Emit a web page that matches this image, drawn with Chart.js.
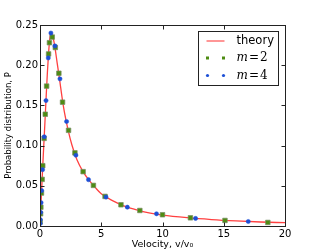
<!DOCTYPE html>
<html>
<head>
<meta charset="utf-8">
<script src="https://cdn.jsdelivr.net/npm/chart.js@4"></script>
<style>
  html, body { margin: 0; padding: 0; background: #fff; }
  #chart { display: block; }
</style>
</head>
<body>
<canvas id="chart" width="317" height="252"></canvas>
<script>
const theoryV = [0, 0.05, 0.1, 0.2, 0.3, 0.4, 0.5, 0.6, 0.7, 0.8, 0.9, 1.0, 1.1, 1.2, 1.4, 1.6, 1.8, 2.0, 2.3, 2.6, 3.0, 3.5, 4.0, 4.5, 5.0, 6.0, 7.0, 8.0, 9.0, 10, 12, 14, 16, 18, 20];
const theoryP = [0, 0.017, 0.034, 0.067, 0.098, 0.128, 0.160, 0.190, 0.215, 0.233, 0.241, 0.238, 0.232, 0.224, 0.203, 0.182, 0.160, 0.141, 0.119, 0.101, 0.083, 0.068, 0.057, 0.048, 0.040, 0.031, 0.024, 0.0195, 0.016, 0.0135, 0.0103, 0.0080, 0.0063, 0.0050, 0.0041];

const m2V = [0.015, 0.046, 0.07, 0.12, 0.175, 0.225, 0.335, 0.43, 0.54, 0.7, 0.77, 1.0, 1.25, 1.54, 1.84, 2.33, 2.85, 3.52, 4.36, 5.31, 6.61, 8.15, 10.0, 12.28, 15.1, 18.6];
const m2P = [0.005, 0.0152, 0.0234, 0.041, 0.058, 0.075, 0.109, 0.139, 0.174, 0.214, 0.228, 0.235, 0.222, 0.190, 0.154, 0.119, 0.091, 0.0676, 0.0505, 0.0368, 0.0264, 0.0193, 0.014, 0.0102, 0.0069, 0.0044];

const m4V = [0.01, 0.025, 0.052, 0.088, 0.135, 0.21, 0.345, 0.49, 0.675, 0.89, 1.22, 1.63, 2.17, 2.93, 3.96, 5.39, 7.13, 9.51, 12.7, 17.0];
const m4P = [0.003, 0.008, 0.017, 0.029, 0.044, 0.070, 0.111, 0.156, 0.209, 0.240, 0.224, 0.183, 0.130, 0.088, 0.0576, 0.036, 0.0234, 0.0152, 0.0094, 0.0056];

const xTicks = [0, 5, 10, 15, 20];
const yTicks = [0, 0.05, 0.1, 0.15, 0.2, 0.25];

const legendLabels = ["theory", "m=2", "m=4"];

const FONT = "'DejaVu Sans', sans-serif";
const RED = "rgba(255, 0, 0, 0.75)";
const GREEN = "#4e8c12";
const BLUE = "#1c4fd6";

function toPoints(xs, ys) {
  return xs.map((x, i) => ({ x, y: ys[i] }));
}

// matplotlib style box: full frame plus inward ticks on every side
const framePlugin = {
  id: "frame",
  afterDraw(chart) {
    const { ctx, chartArea: a, scales } = chart;
    const left = Math.round(a.left) + 0.5;
    const right = Math.round(a.right) + 0.5;
    const top = Math.round(a.top) + 0.5;
    const bottom = Math.round(a.bottom) + 0.5;
    ctx.save();
    ctx.strokeStyle = "#222";
    ctx.lineWidth = 1;
    ctx.strokeRect(left, top, right - left, bottom - top);
    ctx.beginPath();
    xTicks.forEach((t) => {
      const px = Math.round(scales.x.getPixelForValue(t)) + 0.5;
      ctx.moveTo(px, bottom); ctx.lineTo(px, bottom - 4);
      ctx.moveTo(px, top); ctx.lineTo(px, top + 4);
    });
    yTicks.forEach((t) => {
      const py = Math.round(scales.y.getPixelForValue(t)) + 0.5;
      ctx.moveTo(left, py); ctx.lineTo(left + 4, py);
      ctx.moveTo(right, py); ctx.lineTo(right - 4, py);
    });
    ctx.stroke();
    ctx.restore();
  },
};

// legend box in the upper right corner of the plot
const legendPlugin = {
  id: "boxLegend",
  afterDraw(chart) {
    const { ctx, chartArea: a } = chart;
    const bx = a.right - 86.5;
    const by = a.top + 6.5;
    ctx.save();
    ctx.fillStyle = "#fff";
    ctx.fillRect(bx, by, 80, 54);
    ctx.strokeStyle = "#222";
    ctx.lineWidth = 1;
    ctx.strokeRect(bx, by, 80, 54);

    const rows = [by + 9.5, by + 26.5, by + 44];
    const mx1 = bx + 9;
    const mx2 = bx + 25;

    ctx.strokeStyle = "rgba(255, 80, 80, 0.6)";
    ctx.lineWidth = 2;
    ctx.beginPath();
    ctx.moveTo(mx1 - 1, rows[0]);
    ctx.lineTo(mx2 + 1, rows[0]);
    ctx.stroke();

    ctx.fillStyle = GREEN;
    [mx1, mx2].forEach((x) => ctx.fillRect(x - 1.5, rows[1] - 1.5, 3, 3));
    ctx.fillStyle = BLUE;
    [mx1, mx2].forEach((x) => {
      ctx.beginPath();
      ctx.arc(x, rows[2], 1.6, 0, Math.PI * 2);
      ctx.fill();
    });

    ctx.fillStyle = "#000";
    ctx.textBaseline = "middle";
    ctx.textAlign = "left";
    const tx = bx + 38;
    ctx.font = "11.5px " + FONT;
    ctx.fillText(legendLabels[0], tx, rows[0]);

    [1, 2].forEach((k) => {
      const [name, num] = legendLabels[k].split("=");
      ctx.font = "italic 12px 'DejaVu Serif', serif";
      ctx.fillText(name, tx, rows[k]);
      let w = ctx.measureText(name).width;
      ctx.font = "12px 'DejaVu Serif', serif";
      ctx.fillText("=", tx + w + 1, rows[k]);
      w += ctx.measureText("=").width + 2;
      ctx.fillText(num, tx + w, rows[k]);
    });
    ctx.restore();
  },
};

const chart = new Chart(document.getElementById("chart"), {
  type: "scatter",
  data: {
    datasets: [
      {
        label: legendLabels[0],
        data: toPoints(theoryV, theoryP),
        showLine: true,
        borderColor: RED,
        borderWidth: 1.3,
        pointRadius: 0,
        cubicInterpolationMode: "monotone",
        order: 3,
      },
      {
        label: legendLabels[1],
        data: toPoints(m2V, m2P),
        pointStyle: "rect",
        pointRadius: 3.2,
        backgroundColor: GREEN,
        borderColor: "rgba(120, 140, 100, 0.9)",
        borderWidth: 0.8,
        order: 2,
      },
      {
        label: legendLabels[2],
        data: toPoints(m4V, m4P),
        pointStyle: "circle",
        pointRadius: 2.1,
        backgroundColor: BLUE,
        borderColor: BLUE,
        borderWidth: 0.5,
        order: 1,
      },
    ],
  },
  options: {
    responsive: false,
    animation: false,
    devicePixelRatio: 1,
    layout: { padding: { top: 25, right: 32, left: 0, bottom: 0 } },
    plugins: {
      legend: { display: false },
      tooltip: { enabled: false },
    },
    scales: {
      x: {
        type: "linear",
        min: 0,
        max: 20,
        afterBuildTicks(scale) {
          scale.ticks = xTicks.map((value) => ({ value }));
        },
        afterFit(scale) {
          scale.height = 26;
        },
        ticks: {
          color: "#000",
          padding: 2,
          maxRotation: 0,
          font: { family: FONT, size: 10 },
        },
        grid: { display: false, drawTicks: false },
        border: { display: false },
        title: {
          display: true,
          text: "Velocity, v/v₀",
          color: "#000",
          font: { family: FONT, size: 9.5 },
          padding: { top: 0, bottom: 2 },
        },
      },
      y: {
        min: 0,
        max: 0.25,
        afterBuildTicks(scale) {
          scale.ticks = yTicks.map((value) => ({ value }));
        },
        afterFit(scale) {
          scale.width = 40;
        },
        ticks: {
          color: "#000",
          padding: 2,
          font: { family: FONT, size: 10 },
          callback: (value) => value.toFixed(2),
        },
        grid: { display: false, drawTicks: false },
        border: { display: false },
        title: {
          display: true,
          text: "Probability distribution, P",
          color: "#000",
          font: { family: FONT, size: 8.5 },
          padding: { top: 4, bottom: 0 },
        },
      },
    },
  },
  plugins: [framePlugin, legendPlugin],
});
</script>
</body>
</html>
